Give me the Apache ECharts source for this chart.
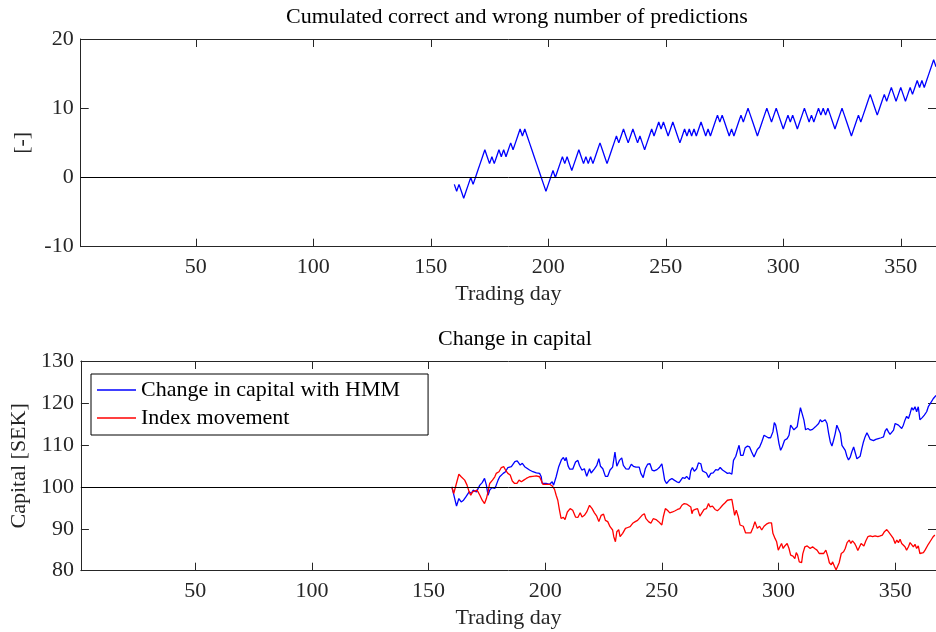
<!DOCTYPE html>
<html>
<head>
<meta charset="utf-8">
<script src="https://cdn.jsdelivr.net/npm/echarts@6/dist/echarts.min.js"></script>
<style>
html,body{margin:0;padding:0;background:#fff;}
#chart{width:936px;height:632px;}
</style>
</head>
<body>
<div id="chart"></div>
<script>
// ---------- DATA ----------
const xTickValues = [50, 100, 150, 200, 250, 300, 350];
const predYTicks = [-10, 0, 10, 20];
const capYTicks = [80, 90, 100, 110, 120, 130];

// Cumulated correct minus wrong predictions, trading days 160..365
const predStartDay = 160;
const predVals = [
  -1,-2,-1,-2,-3,-2,-1,0,-1,0,1,2,3,4,3,2,3,2,3,4,3,4,3,4,5,4,5,6,7,6,
  7,6,5,4,3,2,1,0,-1,-2,-1,0,1,0,1,2,3,2,3,2,1,2,3,4,3,2,3,2,3,2,
  3,4,5,4,3,2,3,4,5,6,5,6,7,6,5,6,7,6,5,6,5,4,5,6,7,6,7,8,7,8,
  7,6,7,8,7,6,5,6,7,6,7,6,7,6,7,8,7,6,7,6,7,8,9,8,9,8,7,6,7,6,
  7,8,9,8,9,10,9,8,7,6,7,8,9,10,9,8,9,10,9,8,7,8,9,8,9,8,7,8,9,10,
  9,8,9,8,9,10,9,10,9,10,9,8,7,8,9,10,9,8,7,6,7,8,9,8,9,10,11,12,11,10,
  9,10,11,12,11,12,13,12,11,12,13,12,11,12,13,12,13,14,13,14,13,14,15,16,17,16
];

// Change in capital with HMM
const hmmDays = [
  160,162,163,164,165,166,167.4,168.4,169.1,170.5,172,173,174,174.8,175.5,176.2,177.2,178.4,179,179.8,
  180.5,182,183,184,185.5,187,188,188.8,189.3,190.2,191.2,191.9,193.3,194.7,196.2,197.6,198.3,198.7,199.4,200.4,
  201.9,203,203.6,204.7,205.8,207,207.8,208.5,209,209.8,210.5,211.8,213,214,214.7,215.7,216.8,217.8,219,219.7,
  221.1,222.1,223,223.7,224.7,225.8,226.8,227.8,228.9,229.9,230.7,231.8,232.8,233.5,234.6,235.8,236.9,237.8,238.9,239.6,
  240.3,241,242,242.9,243.9,244.9,245.8,246.7,247.9,248.9,250,250.6,251.2,252,253.2,254.3,255.3,256.4,257.4,258.1,
  258.9,259.9,260.6,261.2,261.8,262.4,263.1,263.9,264.9,265.7,266.7,267.4,268.1,269.1,270,271,272,273.1,274.1,275,
  276,277.1,278.1,279.1,280,280.7,281.7,282.4,283.1,283.8,284.8,285.7,286.7,287.6,288.5,289.5,290.2,290.9,291.9,292.8,
  293.8,294.5,295.6,296.6,297.6,298.2,298.8,299.5,300.2,300.9,301.6,302.6,303.7,304.5,305.2,305.9,306.6,307.3,308,308.7,
  309.4,310.2,310.9,311.6,312.6,313.6,314.6,315.8,316.5,317.2,317.9,318.6,319.3,320,320.8,321.5,322.2,322.9,323.6,324.3,
  325,325.7,326.5,327.2,327.9,328.6,329.3,330,330.7,331.4,332.2,332.9,333.6,334.3,335,335.7,336.4,337.1,337.9,338.6,
  339.3,340,340.7,341.7,342.8,344,345,345.7,346.4,347.1,347.8,348.5,349.3,350,350.7,351.4,352.1,352.8,353.5,354.2,
  354.9,355.7,356.4,357.1,357.8,358.5,359.2,359.9,360.6,361.6,362.5,363.5,364.2,364.9,365.6,366.3,367,367.5
];
const hmmCapital = [
  100,95.4,97.2,96.4,96.8,97.6,98.8,98.4,99.2,98.8,100.4,101,102,100.4,98,99.2,99.8,99.6,100.4,101.6,
  102.4,103.2,103.6,104.6,104.8,106,106.2,106,105.2,105.6,104.8,104.5,104,103.6,103.3,103.2,102.4,100.8,100.6,100.8,
  100.6,101.2,100.4,102.4,104.8,106.5,107,106.2,107,105,104.2,104.2,105.9,106.3,105.1,104,104.3,102.5,104.3,103.3,
  104.3,105.1,106.7,104.9,104.3,102.5,102.5,104,104.7,108.3,104.9,106.3,106.9,105.1,104.3,104.2,105.4,104.9,104.7,104.3,
  104.7,103.2,102.2,104.3,105.4,105.5,104,103.8,104.1,104.6,105.5,103.6,101.6,100.8,101.6,102,101.6,101.2,101,101.2,
  102.2,102,102.5,102.2,101.7,103.8,104.6,103.7,104.3,105.7,105.5,103.8,103.6,103.3,102.2,103.2,103.3,104.1,104,104.6,
  104,103.6,103.2,103.3,103,106.3,107.3,108.7,109.9,107.5,107.5,109.3,109.7,109.5,108.3,107.1,107.5,108.9,109.5,110.7,
  112.3,111.9,111.7,111.7,113.1,115.3,114.7,112.7,110.3,108.7,109.5,111.1,111.5,112.3,114.7,114.3,113.6,113.3,114.3,116.7,
  118.9,118.9,115.9,113.6,113.9,113.5,113.7,114.3,113.9,115.1,116,115.5,115.9,116,115.1,112.7,110.7,109.7,111.1,112.7,
  114.7,115.1,112.7,109.9,109.7,108.7,107.3,106.4,107,108.3,109.5,109.1,106.7,106.7,107.3,109.1,110.7,111.9,112.9,112.1,
  111.3,111.3,111,111.3,111.5,111.7,111.9,113.3,113.9,113.1,112.5,112.3,113.5,115.1,115.2,114.7,114.3,113.9,114.7,115.9,
  116.8,116.3,117.5,118.9,118.3,119.1,117.9,119.1,116,116.5,117.1,117.9,119.1,119.7,119.8,121,121.4,121.8
];

// Index movement
const idxDays = [
  160,160.8,163,164,165.5,166.5,167.4,168.1,168.8,169.8,170.8,172,173,174,174.8,175.5,176.2,177.4,178.4,179,
  180.2,181.2,182.2,183,184,185,185.9,186.9,187.9,188.8,189.8,190.8,191.9,193.3,194.7,196.2,197.6,198.3,199,199.7,
  200.4,201.9,203,204,204.7,205.4,206.1,206.8,207.8,208.5,209.5,210.7,211.8,213,214,215,215.8,216.8,217.8,219,
  220.1,221.1,222.1,223,224,225,225.8,226.8,227.8,228.9,229.4,230.1,230.7,231.5,232.1,233.2,234.4,235.4,236.4,237.5,
  238.6,239.6,240.3,241.5,242.5,243.2,244.3,245.3,246.3,247.5,248.6,250,250.6,251.5,252.4,253.4,254.6,255.7,256.7,257.7,
  258.6,259.6,260.6,261.4,262.4,262.9,263.4,264.3,265.3,266.3,267.1,268.1,269.1,270,270.7,271.7,272.8,273.8,274.8,276,
  277.1,278.1,278.8,280,280.7,281.2,281.9,282.8,283.5,284.2,284.9,285.9,287.1,288.1,289.1,289.9,290.9,291.9,292.8,293.8,
  294.8,295.9,297,297.6,298.5,299.2,299.9,300.6,301.3,302,302.7,303.7,304.5,305.2,306.2,307,307.6,308.2,308.9,309.9,
  310.4,311.3,312.3,313.6,314.6,315.5,316.5,317.5,318.3,319.3,320.3,321.2,321.8,322.6,323.2,324,324.7,325.3,326,326.9,
  327.9,328.6,329.4,330.3,331,331.7,332.6,333.2,334,334.6,335.4,336,336.6,337.4,338.3,339.3,340.3,341.4,342.6,343.6,
  344.5,345.4,346.4,347.1,348.2,349.2,350,350.7,351.4,352.1,352.8,353.5,354.2,354.9,355.7,356.4,357.1,357.8,358.5,359.2,
  359.9,360.6,361.4,362.1,362.8,363.5,364.2,364.9,365.6,366.3,367
];
const idxValues = [
  100,98.4,103,102.4,101.6,100.4,98.8,98,98.8,99,99.2,98,96.8,96,97.2,98.8,100.8,101.6,102.4,103.2,
  103.6,104.6,104.8,104,103.2,102.8,101.4,100.8,100.8,101.6,101.2,101.6,102,102.4,102.5,102.6,102.4,102,100.6,100.4,
  100.6,100.6,100.2,99.4,98,96.8,94.5,92.5,92.7,92.2,94,94.8,94.4,92.8,92.7,93.8,92.8,93.2,94,95.6,
  94.8,93.8,93,91.7,93.2,93.5,92,91.7,90.5,89.7,88.1,86.9,89.3,89.8,88.1,88.9,90.1,90.3,90.5,91.3,
  91.7,92,91.7,93.2,93.6,92.4,91.7,91.3,92.4,92.2,91.7,90.9,92.8,94.8,94.4,93.8,94,94.3,94.6,94.8,
  95.6,96,95.9,96.2,95.2,93.6,94.4,94.6,94.8,93,93.2,94.6,94.8,96,95.2,95.4,94.6,94.3,94.8,95.6,
  96.2,96.8,96.4,97,94.8,93.2,94.4,92.8,90.9,90.5,90.6,89,89,89,90.3,91.7,90.1,90.6,89.7,90.6,
  91.1,91.4,91.4,88.9,87.7,86.9,84.9,85.7,86.5,85.3,85.9,86.5,85.3,83.7,83.5,82.9,84.3,83.7,82.1,81.9,
  84,85.7,85.9,85.3,85.7,85.3,84.9,84.1,83.7,84.1,84.9,83.3,81.9,81.4,82.1,81,80.2,80,81.9,84.1,
  84.5,85.3,86.7,87.3,86.5,87.1,86.5,85.9,84.8,84.9,86.5,86.9,85.9,87.1,88.1,88.3,88.1,88.3,88.1,88.3,
  88.5,89.3,89.8,89.3,88.5,87.7,86.5,87.3,86.7,87.5,86.5,86.1,85.7,84.9,85.7,86.7,86.5,85.7,86.3,85.3,
  85.9,84.1,84.5,84.3,84.9,85.3,86.3,86.5,87.5,88.1,88.5
];

// ---------- CHART ----------
const FONT = 'Liberation Serif';
const AX = '#262626';
const chart = echarts.init(document.getElementById('chart'), null, {renderer: 'canvas'});

function xAx(grid, pos, max, withLabels, name) {
  return {
    type: 'value', gridIndex: grid, position: pos, min: 1, max: max,
    axisLine: {show: true, onZero: false, lineStyle: {color: AX, width: 1}},
    axisTick: {show: true, inside: true, length: 8, customValues: xTickValues, lineStyle: {color: AX}},
    axisLabel: {show: withLabels, customValues: xTickValues, color: AX, fontFamily: FONT, fontSize: 22, margin: 10},
    splitLine: {show: false},
    name: name || '', nameLocation: 'middle', nameGap: 37,
    nameTextStyle: {color: AX, fontFamily: FONT, fontSize: 22}
  };
}
function yAx(grid, pos, min, max, withLabels, name, gap) {
  return {
    type: 'value', gridIndex: grid, position: pos, min: min, max: max, interval: 10,
    axisLine: {show: true, onZero: false, lineStyle: {color: AX, width: 1}},
    axisTick: {show: true, inside: true, length: 8, lineStyle: {color: AX}},
    axisLabel: {show: withLabels, color: AX, fontFamily: FONT, fontSize: 22, margin: 7},
    splitLine: {show: false},
    name: name || '', nameLocation: 'middle', nameGap: gap || 40, nameRotate: 90,
    nameTextStyle: {color: AX, fontFamily: FONT, fontSize: 22}
  };
}
const zeroLine = (v) => ({
  silent: true, symbol: ['none', 'none'], label: {show: false},
  lineStyle: {color: '#000', width: 1, type: 'solid'},
  data: [{yAxis: v}]
});

const option = {
  backgroundColor: '#fff',
  animation: false,
  title: [
    {text: 'Cumulated correct and wrong number of predictions', left: 512, top: 1, textAlign: 'center',
     textStyle: {fontFamily: FONT, fontSize: 22, fontWeight: 'normal', color: '#000'}},
    {text: 'Change in capital', left: 510, top: 323, textAlign: 'center',
     textStyle: {fontFamily: FONT, fontSize: 22, fontWeight: 'normal', color: '#000'}}
  ],
  grid: [
    {left: 80.7, right: 0, top: 39, height: 207.7},
    {left: 78, right: 0, top: 361, height: 209.7}
  ],
  legend: {
    data: ['Change in capital with HMM', 'Index movement'],
    orient: 'vertical', left: 91, top: 374,
    backgroundColor: '#fff', borderColor: '#000', borderWidth: 1,
    padding: [5, 28, 6, 6],
    icon: 'rect', itemWidth: 39, itemHeight: 1.3, itemGap: 6,
    textStyle: {fontFamily: FONT, fontSize: 22, color: '#000', lineHeight: 20}
  },
  xAxis: [
    xAx(0, 'bottom', 365, true, 'Trading day'),
    xAx(0, 'top', 365, false),
    xAx(1, 'bottom', 367.5, true, 'Trading day'),
    xAx(1, 'top', 367.5, false)
  ],
  yAxis: [
    yAx(0, 'left', -10, 20, true, '[-]', 43),
    yAx(0, 'right', -10, 20, false),
    yAx(1, 'left', 80, 130, true, 'Capital [SEK]', 49),
    yAx(1, 'right', 80, 130, false)
  ],
  series: [
    {
      type: 'line', xAxisIndex: 0, yAxisIndex: 0, symbol: 'none',
      data: predVals.map((v, i) => [predStartDay + i, v]),
      lineStyle: {color: '#0000ff', width: 1.3}, itemStyle: {color: '#0000ff'},
      markLine: zeroLine(0), z: 3
    },
    {
      name: 'Change in capital with HMM', type: 'line', xAxisIndex: 2, yAxisIndex: 2, symbol: 'none',
      data: hmmDays.map((d, i) => [d, hmmCapital[i]]),
      lineStyle: {color: '#0000ff', width: 1.3}, itemStyle: {color: '#0000ff'},
      markLine: zeroLine(100), z: 3
    },
    {
      name: 'Index movement', type: 'line', xAxisIndex: 2, yAxisIndex: 2, symbol: 'none',
      data: idxDays.map((d, i) => [d, idxValues[i]]),
      lineStyle: {color: '#ff0000', width: 1.3}, itemStyle: {color: '#ff0000'}, z: 3
    }
  ]
};
chart.setOption(option);
</script>
</body>
</html>
